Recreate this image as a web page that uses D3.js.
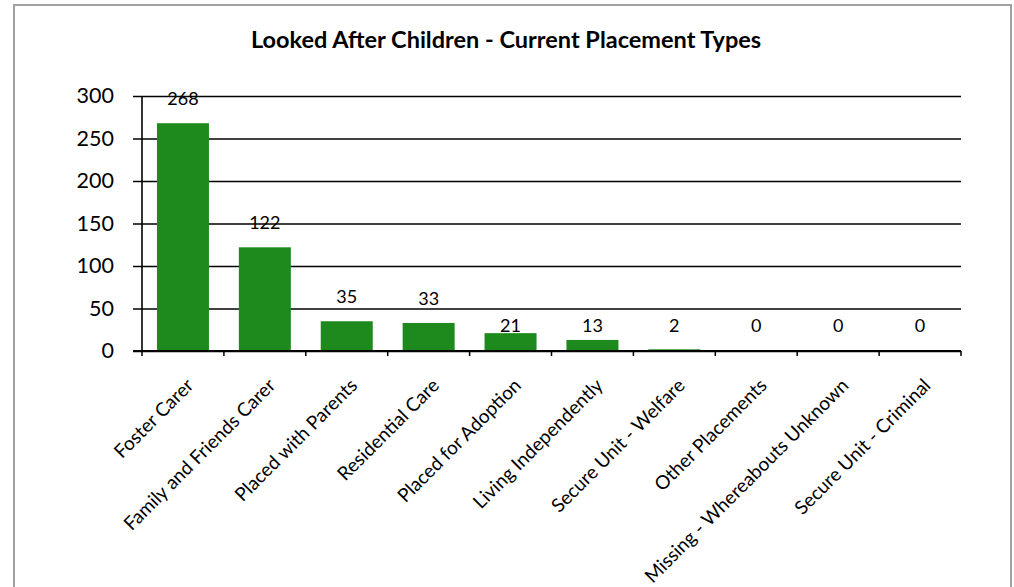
<!DOCTYPE html>
<html>
<head>
<meta charset="utf-8">
<script src="https://cdn.jsdelivr.net/npm/d3@7"></script>
<style>
  html, body { margin: 0; padding: 0; background: #fff; }
  svg { display: block; font-family: Lato, "Open Sans", sans-serif; }
</style>
</head>
<body>
<svg id="chart" width="1014" height="587"></svg>
<script>
const title = "Looked After Children - Current Placement Types";
const categories = [
  "Foster Carer", "Family and Friends Carer", "Placed with Parents",
  "Residential Care", "Placed for Adoption", "Living Independently",
  "Secure Unit - Welfare", "Other Placements",
  "Missing - Whereabouts Unknown", "Secure Unit - Criminal"
];
const values = [268, 122, 35, 33, 21, 13, 2, 0, 0, 0];
const yTicks = [0, 50, 100, 150, 200, 250, 300];

(function () {
const svg = d3.select("#chart");
const W = 1014, H = 587;
const pLeft = 142, pRight = 961, pTop = 96, pBottom = 351;

svg.append("rect").attr("width", W).attr("height", H).attr("fill", "#fff");
// outer frame
svg.append("rect")
  .attr("x", 14).attr("y", 5).attr("width", 997).attr("height", 600)
  .attr("fill", "none").attr("stroke", "#a0a0a0").attr("stroke-width", 2);

svg.append("text")
  .attr("x", 506).attr("y", 48)
  .attr("text-anchor", "middle")
  .attr("font-weight", "bold").attr("font-size", 23.5)
  .attr("fill", "#000")
  .text(title);

const x = d3.scaleBand().domain(categories).range([pLeft, pRight])
  .paddingInner(0.365).paddingOuter(0.1825);
const y = d3.scaleLinear().domain([0, 300]).range([pBottom, pTop]);

// gridlines + y ticks
const yAxis = d3.axisLeft(y).tickValues(yTicks).tickSize(pRight - pLeft + 9).tickPadding(19).tickFormat(d3.format("d"));
const gy = svg.append("g").attr("transform", `translate(${pRight},0)`).call(yAxis);
gy.select(".domain").remove();
gy.selectAll(".tick line").attr("stroke", "#000").attr("stroke-width", 1.3);
gy.selectAll(".tick text").attr("font-size", 21.5).attr("fill", "#000")
  .attr("font-family", "Lato, sans-serif");

// bars
svg.append("g").selectAll("rect").data(values).join("rect")
  .attr("x", (d, i) => x(categories[i]))
  .attr("width", x.bandwidth())
  .attr("y", d => y(d))
  .attr("height", d => y(0) - y(d))
  .attr("fill", "#1e8a1e");

// value labels
svg.append("g").selectAll("text").data(values).join("text")
  .attr("x", (d, i) => x(categories[i]) + x.bandwidth() / 2)
  .attr("y", d => d >= 30 ? y(d) - 18 : y(0) - 19)
  .attr("text-anchor", "middle")
  .attr("font-size", 18).attr("fill", "#000")
  .text(d => d);

// y axis line
svg.append("line").attr("x1", pLeft).attr("x2", pLeft).attr("y1", pTop).attr("y2", pBottom)
  .attr("stroke", "#000").attr("stroke-width", 1.6);

// x axis
const tickPos = d3.range(categories.length + 1).map(i => pLeft + i * (pRight - pLeft) / categories.length);
svg.append("line").attr("x1", pLeft - 9).attr("x2", pRight).attr("y1", pBottom).attr("y2", pBottom)
  .attr("stroke", "#000").attr("stroke-width", 1.8);
svg.append("g").selectAll("line").data(tickPos).join("line")
  .attr("x1", d => d).attr("x2", d => d).attr("y1", pBottom).attr("y2", pBottom + 5)
  .attr("stroke", "#000").attr("stroke-width", 1.5);

svg.append("g").selectAll("text").data(categories).join("text")
  .attr("transform", d => `translate(${x(d) + x.bandwidth() / 2 + 7},${pBottom + 31}) rotate(-45)`)
  .attr("text-anchor", "end")
  .attr("dy", "0.35em")
  .attr("font-size", 19).attr("fill", "#000")
  .text(d => d);
})();
</script>
</body>
</html>
